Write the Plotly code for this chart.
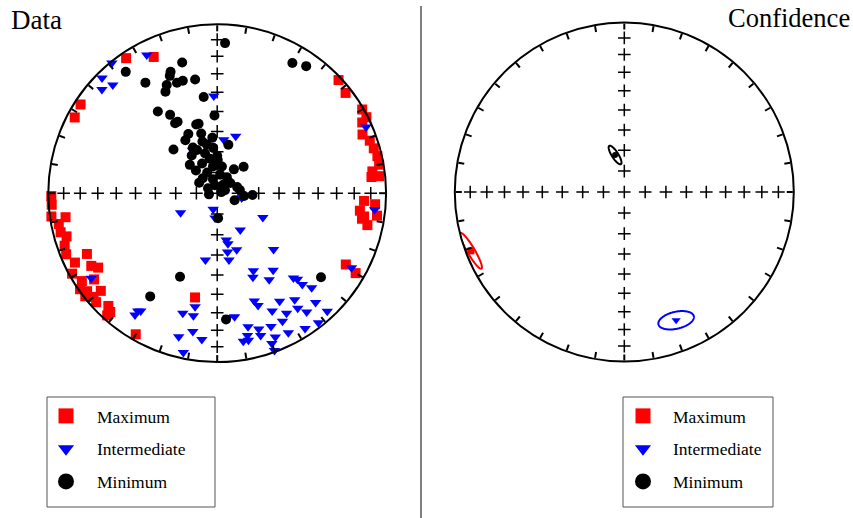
import numpy as np
import plotly.graph_objects as go

# ---------------- data (declination / inclination, degrees) ----------------
MAX_DEC = [326, 335, 303, 298, 47, 52, 60, 63, 64, 68, 71, 74, 77, 80, 82, 84, 84, 93, 94, 97,
           99, 98, 100, 102, 119, 120, 269, 266, 262, 261, 259, 256, 254, 251, 248, 244, 245,
           240, 238, 241, 237, 235, 235, 233, 230, 232, 230, 228, 224, 222, 222, 210, 192]
MAX_INC = [4, 12, 4, 5, 2, 4, 1, 1, 5, 8, 5, 4, 3, 3, 8, 9, 4, 14, 7, 16,
           13, 5, 14, 10, 14, 6, 2, 2, 1, 10, 5, 5, 8, 5, 4, 7, 16,
           15, 18, 2, 5, 12, 1, 4, 11, 1, 5, 4, 8, 3, 6, 4, 37]

INT_DEC = [333, 321, 315, 316, 312, 358, 7, 18, 330, 66, 96, 119, 236, 242, 194, 185, 118, 148,
           169, 170, 161, 190, 135, 155, 157, 144, 149, 138, 137, 137, 135, 161, 160, 150, 144,
           145, 138, 155, 150, 143, 137, 175, 172, 153, 142, 167, 163, 168, 163, 158, 153, 147,
           158, 170, 168, 160, 186, 160, 191, 196, 191, 214, 214, 213, 195, 190, 192, 101, 170, 168]
INT_INC = [9, 1, 4, 12, 9, 42, 64, 61, 66, 4, 7, 10, 11, 70, 82, 78, 65, 69,
           67, 61, 61, 57, 51, 48, 45, 43, 40, 33, 31, 27, 22, 33, 30, 27, 23,
           18, 14, 24, 19, 13, 5, 27, 27, 16, 3, 20, 17, 15, 13, 16, 8, 5,
           9, 12, 12, 6, 14, 1, 32, 27, 27, 17, 14, 18, 13, 18, 4, 78, 57, 65]

MIN_DEC = [3, 30, 35, 323, 327, 339, 345, 338, 335, 340, 343, 349, 333, 352, 324, 329, 331, 358,
           329, 345, 334, 329, 345, 355, 344, 332, 315, 13, 355, 343, 326, 348, 1, 333, 351, 10,
           35, 45, 334, 9, 316, 343, 300, 52, 73, 35, 344, 75, 82, 262, 112, 96, 93, 178, 204,
           213, 176, 129, 343, 317, 298, 31, 316, 335, 348, 0, 69]
MIN_INC = [12, 12, 9, 11, 23, 24, 21, 26, 30, 31, 31, 32, 33, 42, 40, 45, 50, 52,
           50, 55, 58, 60, 60, 63, 64, 65, 60, 66, 68, 70, 68, 73, 74, 74, 77, 77,
           76, 72, 79, 81, 80, 83, 80, 82, 80, 85, 86, 88, 79, 86, 81, 77, 73, 78, 45,
           28, 26, 22, 55, 75, 85, 81, 71, 67, 66, 72, 86]

# mean directions and confidence ellipses (Maximum, Intermediate, Minimum)
MEAN_DEC = [249, 158, 346]
MEAN_INC = [3.5, 19.5, 71.7]
ELL_MAJOR = [0.122, 0.107, 0.064]   # semi-axes, fraction of net radius
ELL_MINOR = [0.022, 0.050, 0.019]
ELL_AZ = [149.5, 77, 147.5]          # azimuth of major axis

GRID_INC = [80, 70, 60, 50, 40, 30, 20, 10]
GRID_DEC = [0, 90, 180, 270]

NAMES = ["Maximum", "Intermediate", "Minimum"]
SYMBOLS = ["square", "triangle-down", "circle"]
COLORS = ["#ff0000", "#0000ff", "#000000"]


def ea(inc):
    inc = np.asarray(inc, dtype=float)
    return np.sqrt(2) * np.sin(np.radians(90 - inc) / 2)


fig = go.Figure()

# reference crosses on both nets
cr_r = [0.0] + [float(ea(i)) for d in GRID_DEC for i in GRID_INC]
cr_t = [0.0] + [d for d in GRID_DEC for i in GRID_INC]
for sp in ["polar", "polar2"]:
    fig.add_trace(go.Scatterpolar(
        r=cr_r, theta=cr_t, mode="markers", subplot=sp, showlegend=False, hoverinfo="skip",
        marker=dict(symbol="cross-thin", size=9, line=dict(width=1.5, color="black"))))

# data net
series = [(MAX_DEC, MAX_INC), (INT_DEC, INT_INC), (MIN_DEC, MIN_INC)]
for k, (dec, inc) in enumerate(series):
    fig.add_trace(go.Scatterpolar(
        r=ea(inc), theta=dec, mode="markers", subplot="polar", showlegend=False,
        name=NAMES[k],
        marker=dict(symbol=SYMBOLS[k], color=COLORS[k], size=10, line=dict(width=0))))

# confidence net
t = np.linspace(0, 2 * np.pi, 181)
for k in range(3):
    r0 = float(ea(MEAN_INC[k]))
    d0 = np.radians(MEAN_DEC[k])
    ce, cn = r0 * np.sin(d0), r0 * np.cos(d0)
    az = np.radians(ELL_AZ[k])
    ue, un = np.sin(az), np.cos(az)
    ve, vn = np.cos(az), -np.sin(az)
    e = ce + ELL_MAJOR[k] * np.cos(t) * ue + ELL_MINOR[k] * np.sin(t) * ve
    n = cn + ELL_MAJOR[k] * np.cos(t) * un + ELL_MINOR[k] * np.sin(t) * vn
    fig.add_trace(go.Scatterpolar(
        r=np.hypot(e, n), theta=np.degrees(np.arctan2(e, n)), mode="lines", subplot="polar2",
        showlegend=False, line=dict(color=COLORS[k], width=2)))
    fig.add_trace(go.Scatterpolar(
        r=[r0], theta=[MEAN_DEC[k]], mode="markers", subplot="polar2", showlegend=False,
        marker=dict(symbol=SYMBOLS[k], color=COLORS[k], size=[7, 8, 6][k])))

# legend entries
leg_sizes = [15, 14, 16]
for lg, sp in [("legend", "polar"), ("legend2", "polar2")]:
    for k in range(3):
        fig.add_trace(go.Scatterpolar(
            r=[None], theta=[None], mode="markers", subplot=sp, name=NAMES[k],
            legend=lg, legendgroup=lg + NAMES[k], showlegend=True,
            marker=dict(symbol=SYMBOLS[k], color=COLORS[k], size=leg_sizes[k])))

W, H = 853, 518
angular = dict(rotation=90, direction="clockwise", showgrid=False, showticklabels=False,
               ticks="inside", ticklen=6, tickwidth=1.5, tickcolor="black", dtick=10,
               linecolor="black", linewidth=2, showline=True)
radial = dict(visible=False, range=[0, 1], showgrid=False, showline=False)

leg_common = dict(font=dict(family="Liberation Serif", size=17.5, color="black"),
                  bgcolor="rgba(0,0,0,0)", borderwidth=0, tracegroupgap=7,
                  xanchor="left", yanchor="top")

fig.update_layout(
    width=W, height=H, margin=dict(l=0, r=0, t=0, b=0),
    paper_bgcolor="white", plot_bgcolor="white",
    font=dict(family="Liberation Serif", color="black"),
    polar=dict(domain=dict(x=[48.3 / W, 386.1 / W], y=[1 - 362.1 / H, 1 - 24.3 / H]),
               bgcolor="white", angularaxis=angular, radialaxis=radial),
    polar2=dict(domain=dict(x=[454.8 / W, 793.8 / W], y=[1 - 361.5 / H, 1 - 22.5 / H]),
                bgcolor="white", angularaxis=angular, radialaxis=radial),
    legend=dict(x=35 / W, y=1 - 398 / H, itemwidth=52, **leg_common),
    legend2=dict(x=613 / W, y=1 - 398 / H, itemwidth=50, **leg_common),
    shapes=[
        dict(type="line", xref="paper", yref="paper", x0=421 / W, x1=421 / W, y0=0, y1=1 - 6 / H,
             line=dict(color="black", width=1)),
        dict(type="rect", xref="paper", yref="paper", x0=47 / W, x1=215 / W,
             y0=1 - 507 / H, y1=1 - 397 / H, line=dict(color="#555555", width=1)),
        dict(type="rect", xref="paper", yref="paper", x0=623 / W, x1=773 / W,
             y0=1 - 507 / H, y1=1 - 397 / H, line=dict(color="#555555", width=1)),
    ],
    annotations=[
        dict(text="Data", x=9 / W, y=1 - 20 / H, xref="paper", yref="paper",
             xanchor="left", yanchor="middle", showarrow=False,
             font=dict(family="Liberation Serif", size=27, color="black")),
        dict(text="Confidence", x=852 / W, y=1 - 18 / H, xref="paper", yref="paper",
             xanchor="right", yanchor="middle", showarrow=False,
             font=dict(family="Liberation Serif", size=26.5, color="black")),
    ],
)

fig.write_html("out.html", config={"displayModeBar": False},
               post_script="document.body.style.margin='0px';")
